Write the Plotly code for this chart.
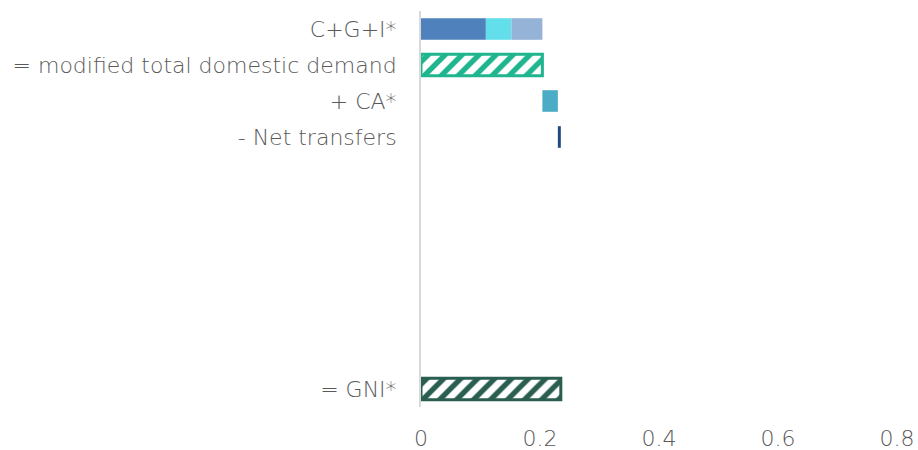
import plotly.graph_objects as go

categories = ["C+G+I*", "= modified total domestic demand", "+ CA*", "- Net transfers",
              " ", "  ", "   ", "    ", "     ", "      ", "= GNI*"]
c_val = 0.109
g_val = 0.043
i_val = 0.052
tdd_val = 0.204
ca_val = 0.026
nt_val = 0.005
gni_val = 0.235
x_ticks = [0, 0.2, 0.4, 0.6, 0.8]

font_family = "DejaVu Sans"
gray = "#595959"
fsize = 22

fig = go.Figure()

def seg(cat, val, base, color, pattern=None):
    marker = dict(color=color, line=dict(width=0))
    if pattern:
        marker = dict(color="white",
                      pattern=dict(shape="/", fgcolor=color, bgcolor="white", size=12,
                                   solidity=0.45, fgopacity=1),
                      line=dict(color=color, width=3))
    fig.add_trace(go.Bar(y=[cat], x=[val], base=[base], orientation="h",
                         marker=marker, showlegend=False, hoverinfo="skip"))

seg(categories[0], c_val, 0, "#4F81BD")
seg(categories[0], g_val, c_val, "#63DFEB")
seg(categories[0], i_val, c_val + g_val, "#95B3D7")
seg(categories[1], tdd_val, 0, "#1FB58F", pattern=True)
seg(categories[2], ca_val, tdd_val, "#4BACC6")
seg(categories[3], nt_val, tdd_val + ca_val, "#1F497D")
seg(categories[10], gni_val, 0, "#2A5E50", pattern=True)

fig.update_layout(
    width=918, height=450,
    margin=dict(l=421, r=21, t=11, b=43),
    plot_bgcolor="white", paper_bgcolor="white",
    barmode="overlay", bargap=0.40,
    font=dict(family=font_family, color=gray, size=fsize, weight=200),
    xaxis=dict(range=[0, 0.8], tickvals=x_ticks, ticktext=[f"{v:g}" for v in x_ticks],
               showgrid=False, zeroline=False, showline=False, automargin=False,
               ticks="outside", ticklen=12, tickcolor="rgba(0,0,0,0)",
               tickfont=dict(size=fsize, color=gray, family=font_family, weight=200)),
    yaxis=dict(categoryorder="array", categoryarray=categories, autorange="reversed",
               showgrid=False, zeroline=False, showline=True, linecolor="#D9D9D9", linewidth=2,
               ticks="", ticklabelstandoff=18, automargin=False,
               tickfont=dict(size=fsize, color=gray, family=font_family, weight=200)),
)

fig.write_html("out.html", config={"displayModeBar": False},
               post_script="document.body.style.margin='0';document.body.style.overflow='hidden';")
